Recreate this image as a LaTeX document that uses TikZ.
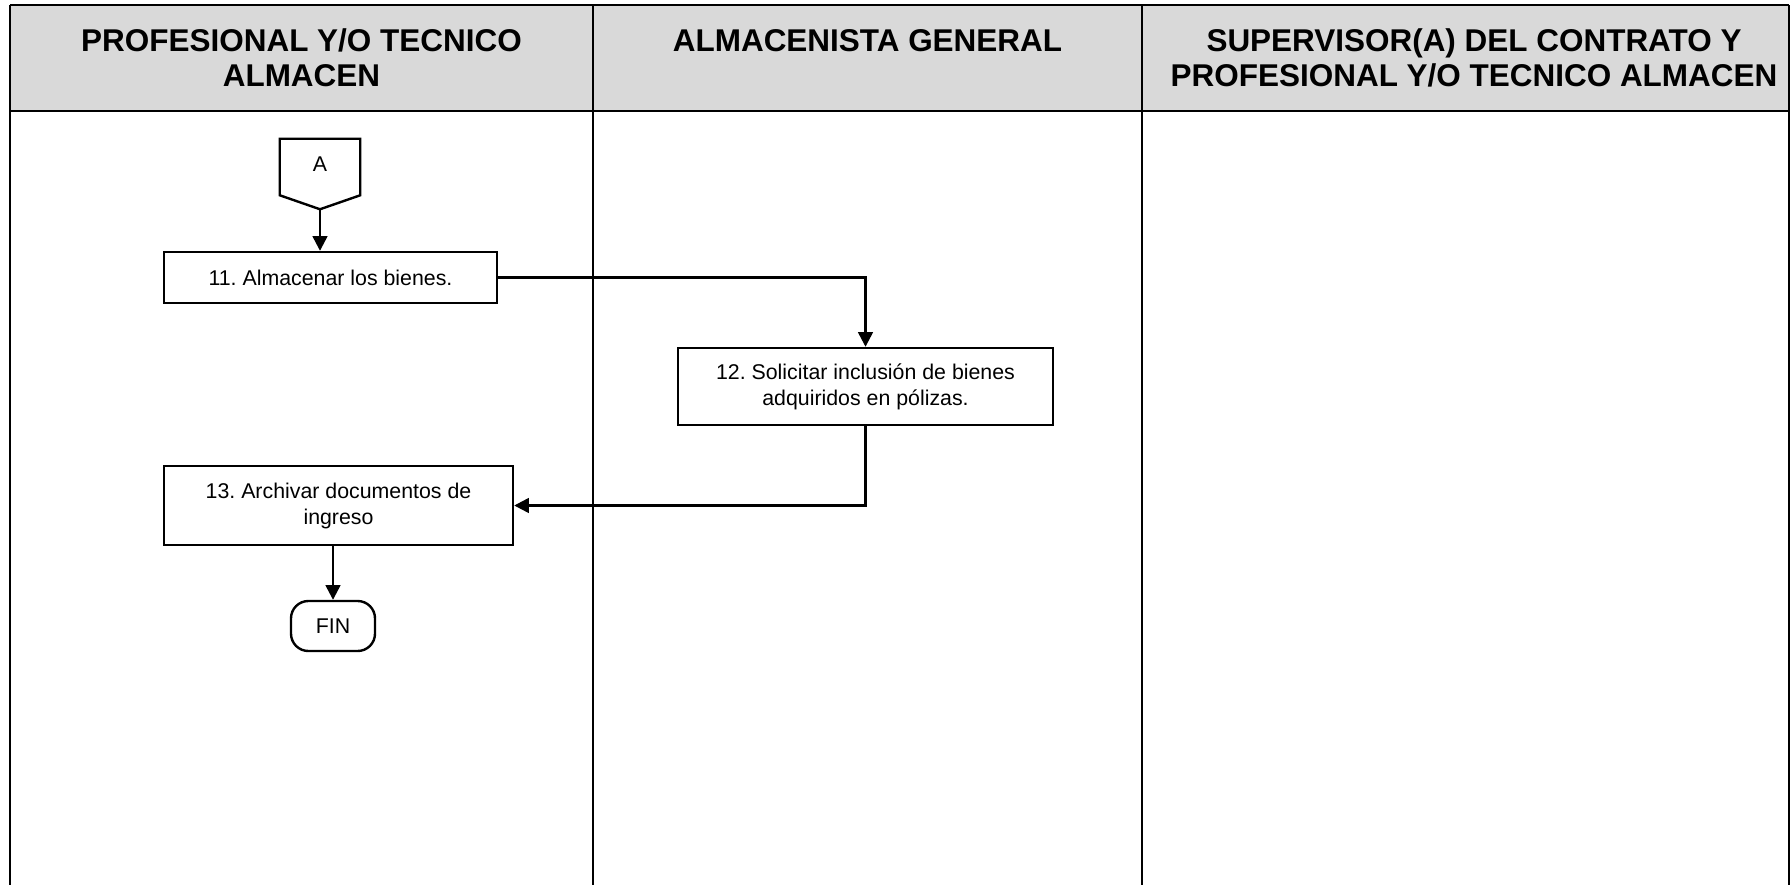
\documentclass[tikz,border=0pt]{standalone}
\usepackage{fontspec}
\setmainfont{Liberation Sans}
\usetikzlibrary{arrows.meta,calc}
\definecolor{hdrgray}{HTML}{D9D9D9}
\frenchspacing
\begin{document}
\begin{tikzpicture}[x=0.75pt,y=-0.75pt,
  box/.style={draw,line width=1.8pt,align=center,font=\fontsize{16}{19.5}\selectfont,inner sep=0pt},
  hdr/.style={align=center,font=\fontsize{23.6}{26.3}\selectfont\bfseries},
  flow/.style={line width=1.8pt,-{Triangle[length=11pt,width=11pt]}},
  lane/.style={line width=1.5pt},
  hline/.style={line width=2.2pt}]
\useasboundingbox (0,0) rectangle (1791,885);
% header
\fill[hdrgray] (10,5) rectangle (1789,111);
\draw[hline] (10,5) -- (1789,5);
\draw[hline] (10,111) -- (1789,111);
\draw[lane] (10,5) -- (10,885);
\draw[lane] (593,5) -- (593,885);
\draw[lane] (1142,5) -- (1142,885);
\draw[lane] (1789,5) -- (1789,885);
\node[hdr] (h1) at (301.5,58) {PROFESIONAL Y/O TECNICO\\ALMACEN};
\node[hdr] (h2) at (867.5,40.5) {ALMACENISTA GENERAL};
\node[hdr] (h3) at (1474,58) {SUPERVISOR(A) DEL CONTRATO Y\\PROFESIONAL Y/O TECNICO ALMACEN};
% off-page connector A
\node[minimum width=60pt,minimum height=42pt,inner sep=0pt,font=\fontsize{16}{19.5}\selectfont] (A) at (320,167) {\raisebox{5pt}{A}};
\coordinate (Atip) at ($(A.south)+(0,14)$);
\draw[line width=1.8pt] (A.north west) -- (A.north east) -- (A.south east) -- (Atip) -- (A.south west) -- cycle;
% boxes
\node[box,minimum width=249.75pt,minimum height=38.25pt] (b11) at (330.5,277.5) {11. Almacenar los bienes.};
\node[box,minimum width=281.25pt,minimum height=57.75pt] (b12) at (865.5,386.5) {12. Solicitar inclusión de bienes\\adquiridos en pólizas.};
\node[box,minimum width=261.75pt,minimum height=59.25pt] (b13) at (338.5,505.5) {13. Archivar documentos de\\ingreso};
\node[box,minimum width=63pt,minimum height=37.5pt,rounded corners=13pt] (fin) at (333,626) {FIN};
% connectors
\draw[flow] (Atip) -- (Atip |- b11.north);
\draw[flow] (b11.east) -| (b12.north);
\draw[flow] (b12.south) |- (b13.east);
\draw[flow] (fin.north |- b13.south) -- (fin.north);
\end{tikzpicture}
\end{document}
